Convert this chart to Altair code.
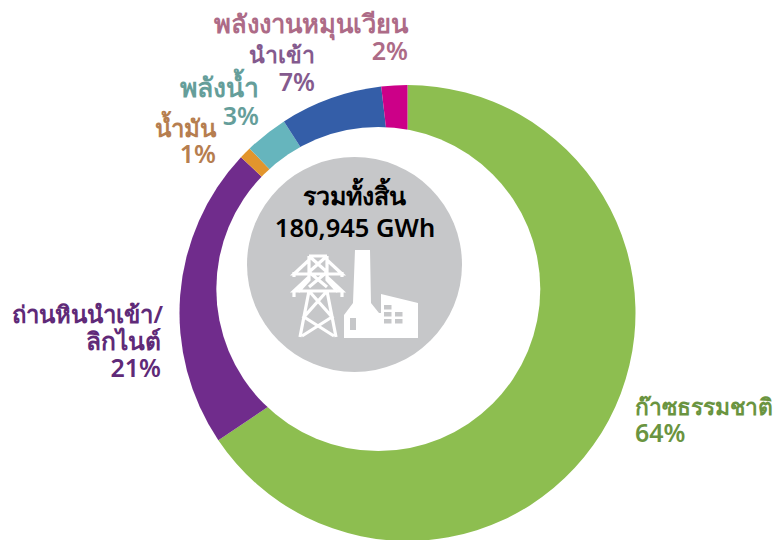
import altair as alt
import pandas as pd

categories = ["ก๊าซธรรมชาติ", "ถ่านหินนำเข้า/ลิกไนต์", "น้ำมัน", "พลังน้ำ", "นำเข้า", "พลังงานหมุนเวียน"]
shares = [65.6, 21.4, 0.86, 3.06, 7.28, 1.84]
slice_colors = ["#8DBE50", "#702C8C", "#E2952D", "#66B5BD", "#345EA8", "#CC0088"]
FONT = "Noto Sans"
OFF = 8

df = pd.DataFrame({"cat": categories, "v": shares, "i": list(range(len(shares)))})

ring = alt.Chart(df).mark_arc(innerRadius=0, outerRadius=228).encode(
    theta=alt.Theta("v:Q", stack=True),
    order=alt.Order("i:Q"),
    color=alt.Color("cat:N", scale=alt.Scale(domain=categories, range=slice_colors), legend=None),
    x=alt.value(407.5 - OFF), y=alt.value(313 - OFF),
)

one = pd.DataFrame({"a": [1]})
hole = alt.Chart(one).mark_circle(color="white", opacity=1, size=324 ** 2).encode(
    x=alt.value(378.3 - OFF), y=alt.value(289 - OFF))
hub = alt.Chart(one).mark_circle(color="#C6C7C9", opacity=1, size=215 ** 2).encode(
    x=alt.value(354.5 - OFF), y=alt.value(264.5 - OFF))

ox, oy = 380, 295
def P(pts):
    return "M" + "L".join(f"{x-ox:.1f},{y-oy:.1f}" for x, y in pts) + "Z"

factory = P([(355,250),(370,250),(371,303),(379,313),(381,313),(381,294),(418,303),(418,338),(344,338),(344,315),(353,303)])
door = P([(350,318),(356,318),(356,330),(350,330)])
wins = [P([(x,y),(x+7.5,y),(x+7.5,y+4.5),(x,y+4.5)]) for x,y in [(384,305),(384,312),(395,312),(384,319),(395,319)]]
def L(*pts):
    return "M" + "L".join(f"{x-ox:.1f},{y-oy:.1f}" for x, y in pts)
tower = " ".join([
    L((309,256),(327,256)),
    L((309,256),(309,280),(298,292)),
    L((327,256),(327,280),(338,292)),
    L((309,256),(327,272)), L((327,256),(309,272)),
    L((309,272),(327,287)), L((327,272),(309,287)),
    L((309,260),(294,274),(342,274),(327,260)),
    L((294,277),(294,272)), L((342,277),(342,272)),
    L((309,277),(294,291),(342,291),(327,277)),
    L((294,297),(294,290)), L((342,297),(342,290)),
    L((309,291),(300,337)), L((327,291),(336,337)),
    L((309,291),(332,317),(302,336)), L((327,291),(304,317),(334,336)),
])
def icon(path, fill=None, stroke=None, sw=0):
    kw = dict(shape=path, size=4, filled=fill is not None, opacity=1)
    if fill: kw["fill"] = fill
    if stroke:
        kw.update(stroke=stroke, strokeWidth=sw, fillOpacity=0)
    return alt.Chart(one).mark_point(**kw).encode(x=alt.value(ox - OFF), y=alt.value(oy - OFF))

icons = [icon(factory, "white"), icon(door, "#C6C7C9")] + [icon(w, "#C6C7C9") for w in wins] + [icon(tower, None, "white", 3.2)]

def T(text, x, y, color, align="right", size=25, weight=600):
    return alt.Chart(one).mark_text(text=text, align=align, baseline="alphabetic", font=FONT,
                                    fontSize=size, fontWeight=weight, color=color).encode(
        x=alt.value(x - OFF), y=alt.value(y - OFF))

texts = [
    T("พลังงานหมุนเวียน", 408, 33, "#AD6B87", size=25.5), T("2%", 408, 60, "#AD6B87"),
    T("นำเข้า", 315, 63, "#845A8E", size=23), T("7%", 315, 91, "#845A8E"),
    T("พลังน้ำ", 259, 97, "#659E9A", size=26.5), T("3%", 259, 125, "#659E9A"),
    T("น้ำมัน", 216, 137, "#B67E4F", size=24), T("1%", 216, 163, "#B67E4F"),
    T("ถ่านหินนำเข้า/", 163, 323, "#5F2A78", size=23.9), T("ลิกไนต์", 161, 350, "#5F2A78", size=24.5), T("21%", 161, 377, "#5F2A78"),
    T("ก๊าซธรรมชาติ", 635, 415, "#6A9440", "left", size=22.8), T("64%", 635, 442, "#6A9440", "left"),
    T("รวมทั้งสิ้น", 354.5, 205, "#000000", "center", 25),
    T("180,945 GWh", 355, 237, "#000000", "center", 25.5, 600),
]

chart = alt.layer(ring, hole, hub, *icons, *texts).properties(
    width=767, height=532, padding=0, autosize=alt.AutoSizeParams(type="none")
).configure_view(stroke=None)

chart.save("out.html", embed_options={"renderer": "svg", "actions": False})
